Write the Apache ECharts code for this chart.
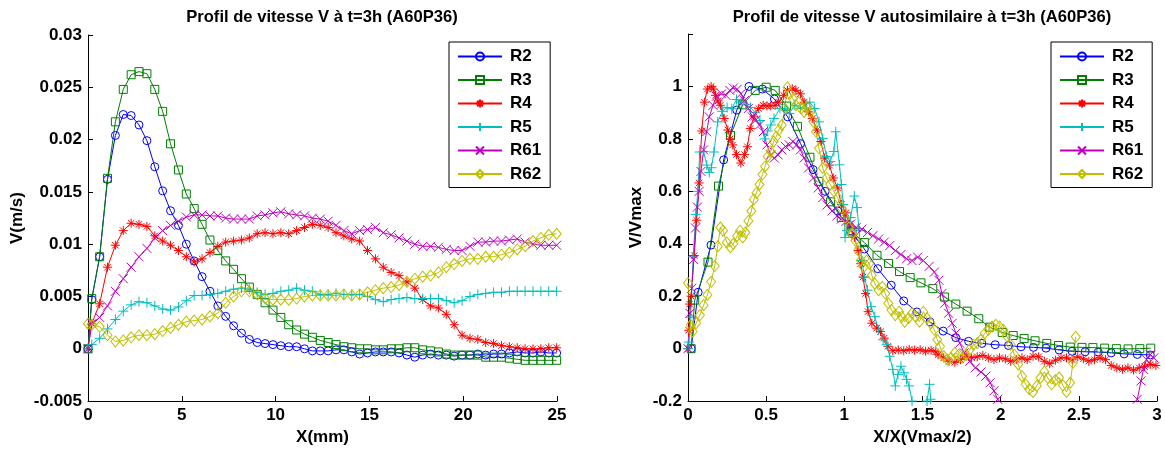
<!DOCTYPE html>
<html><head><meta charset="utf-8">
<script src="https://cdn.jsdelivr.net/npm/echarts@6/dist/echarts.min.js"></script>
<style>html,body{margin:0;padding:0;background:#fff}#c{width:1165px;height:451px}</style>
</head><body><div id="c"></div>
<script>
// ---------- data ----------
const names = ['R2', 'R3', 'R4', 'R5', 'R61', 'R62'];
const titleLeft = 'Profil de vitesse V à t=3h (A60P36)';
const titleRight = 'Profil de vitesse V autosimilaire à t=3h (A60P36)';

// left chart: X (mm)
const xLeft = [0, 0.20, 0.62, 1.04, 1.46, 1.88, 2.30, 2.72, 3.14, 3.56, 3.98, 4.40, 4.82, 5.24, 5.66, 6.08, 6.50, 6.92, 7.34, 7.76, 8.18, 8.60, 9.02, 9.44, 9.86, 10.28, 10.70, 11.12, 11.54, 11.96, 12.38, 12.80, 13.22, 13.64, 14.06, 14.48, 14.90, 15.32, 15.74, 16.16, 16.58, 17.00, 17.42, 17.84, 18.26, 18.68, 19.10, 19.52, 19.94, 20.36, 20.78, 21.20, 21.62, 22.04, 22.46, 22.88, 23.30, 23.72, 24.14, 24.56, 24.98];
const vR2 = [0, 0.0047, 0.0088, 0.0162, 0.0204, 0.0224, 0.0223, 0.0214, 0.0199, 0.0174, 0.0151, 0.0132, 0.0118, 0.0100, 0.0084, 0.0069, 0.0055, 0.0041, 0.0031, 0.0022, 0.0015, 0.0009, 0.0006, 0.0005, 0.0004, 0.0003, 0.0002, 0.0002, 0.0000, -0.0002, -0.0002, -0.0002, -0.0001, -0.0001, -0.0003, -0.0005, -0.0004, -0.0003, -0.0003, -0.0003, -0.0004, -0.0006, -0.0008, -0.0006, -0.0005, -0.0006, -0.0006, -0.0007, -0.0006, -0.0006, -0.0005, -0.0006, -0.0005, -0.0005, -0.0004, -0.0003, -0.0004, -0.0004, -0.0003, -0.0004, -0.0004];
const vR3 = [0, 0.0048, 0.0088, 0.0163, 0.0217, 0.0248, 0.0262, 0.0265, 0.0263, 0.0248, 0.0227, 0.0196, 0.0171, 0.0148, 0.0134, 0.0119, 0.0104, 0.0094, 0.0084, 0.0076, 0.0067, 0.0059, 0.0052, 0.0044, 0.0037, 0.0030, 0.0023, 0.0018, 0.0014, 0.0011, 0.0008, 0.0006, 0.0004, 0.0002, 0.0001, 0, 0, -0.0001, -0.0001, 0, 0, 0.0001, 0.0001, -0.0001, -0.0002, -0.0003, -0.0005, -0.0006, -0.0006, -0.0006, -0.0006, -0.0008, -0.0008, -0.0008, -0.0009, -0.0010, -0.0011, -0.0011, -0.0011, -0.0011, -0.0011];
const vR4 = [0, 0.0024, 0.0043, 0.0078, 0.0099, 0.0113, 0.0120, 0.0119, 0.0117, 0.0108, 0.0103, 0.0099, 0.0094, 0.0088, 0.0083, 0.0086, 0.0092, 0.0098, 0.0102, 0.0103, 0.0104, 0.0106, 0.0110, 0.0111, 0.0110, 0.0111, 0.0110, 0.0113, 0.0116, 0.0119, 0.0118, 0.0116, 0.0111, 0.0108, 0.0105, 0.0103, 0.0094, 0.0086, 0.0078, 0.0073, 0.0070, 0.0064, 0.0058, 0.0047, 0.0041, 0.0039, 0.0033, 0.0023, 0.0013, 0.0010, 0.0009, 0.0006, 0.0005, 0.0003, 0.0002, 0.0001, 0, 0, 0, 0.0001, 0.0001];
const vR5 = [0, 0.0004, 0.0010, 0.0019, 0.0028, 0.0036, 0.0042, 0.0045, 0.0044, 0.0041, 0.0038, 0.0037, 0.0040, 0.0046, 0.0051, 0.0051, 0.0052, 0.0053, 0.0055, 0.0057, 0.0058, 0.0057, 0.0054, 0.0052, 0.0053, 0.0055, 0.0056, 0.0058, 0.0056, 0.0055, 0.0052, 0.0052, 0.0053, 0.0052, 0.0052, 0.0052, 0.0050, 0.0047, 0.0045, 0.0047, 0.0048, 0.0049, 0.0048, 0.0048, 0.0048, 0.0048, 0.0046, 0.0044, 0.0046, 0.0050, 0.0052, 0.0053, 0.0054, 0.0054, 0.0055, 0.0055, 0.0055, 0.0055, 0.0055, 0.0055, 0.0055];
const vR61 = [0, 0.0024, 0.0030, 0.0041, 0.0055, 0.0067, 0.0078, 0.0088, 0.0096, 0.0106, 0.0113, 0.0118, 0.0122, 0.0126, 0.0128, 0.0128, 0.0127, 0.0127, 0.0125, 0.0124, 0.0124, 0.0124, 0.0127, 0.0128, 0.0130, 0.0131, 0.0129, 0.0128, 0.0127, 0.0125, 0.0124, 0.0122, 0.0118, 0.0113, 0.0110, 0.0113, 0.0114, 0.0116, 0.0111, 0.0109, 0.0106, 0.0103, 0.0100, 0.0098, 0.0098, 0.0097, 0.0095, 0.0094, 0.0094, 0.0098, 0.0102, 0.0102, 0.0103, 0.0103, 0.0104, 0.0105, 0.0102, 0.0100, 0.0099, 0.0099, 0.0099];
const vR62 = [0.0024, 0.0023, 0.0021, 0.0013, 0.0007, 0.0008, 0.0011, 0.0013, 0.0013, 0.0014, 0.0017, 0.0020, 0.0023, 0.0026, 0.0027, 0.0028, 0.0031, 0.0034, 0.0044, 0.0050, 0.0055, 0.0055, 0.0052, 0.0048, 0.0047, 0.0047, 0.0047, 0.0048, 0.0050, 0.0051, 0.0051, 0.0051, 0.0051, 0.0052, 0.0051, 0.0052, 0.0054, 0.0056, 0.0058, 0.0059, 0.0061, 0.0064, 0.0067, 0.0069, 0.0070, 0.0073, 0.0078, 0.0081, 0.0084, 0.0086, 0.0086, 0.0088, 0.0088, 0.0090, 0.0092, 0.0095, 0.0098, 0.0103, 0.0106, 0.0109, 0.0110];

// right chart: [X/X(Vmax/2), V/Vmax]
const nR2 = [[0.02,0],[0.065,0.215],[0.147,0.395],[0.228,0.72],[0.312,0.91],[0.39,1.0],[0.476,0.99],[0.553,0.952],[0.638,0.884],[0.72,0.782],[0.8,0.683],[0.878,0.6],[0.958,0.525],[1.04,0.45],[1.128,0.38],[1.214,0.305],[1.3,0.242],[1.38,0.182],[1.464,0.14],[1.548,0.102],[1.632,0.067],[1.713,0.042],[1.795,0.028],[1.88,0.02],[1.965,0.015],[2.05,0.012],[2.13,0.007],[2.21,0.005],[2.29,0.002],[2.374,-0.005],[2.457,-0.01],[2.54,-0.012],[2.624,-0.013],[2.707,-0.016],[2.79,-0.02],[2.874,-0.022],[2.957,-0.024]];
const nR3 = [[0.02,0],[0.043,0.185],[0.128,0.33],[0.195,0.62],[0.272,0.813],[0.35,0.93],[0.43,0.985],[0.5,0.997],[0.558,0.985],[0.63,0.925],[0.7,0.848],[0.78,0.73],[0.837,0.638],[0.912,0.56],[0.98,0.5],[1.05,0.445],[1.128,0.405],[1.209,0.356],[1.283,0.325],[1.353,0.294],[1.421,0.271],[1.49,0.251],[1.566,0.229],[1.64,0.197],[1.713,0.17],[1.785,0.143],[1.86,0.114],[1.93,0.082],[2.01,0.062],[2.08,0.05],[2.15,0.039],[2.22,0.03],[2.295,0.02],[2.37,0.012],[2.445,0.006],[2.52,0.005],[2.59,0.004],[2.665,0.002],[2.74,0],[2.815,-0.001],[2.89,0],[2.96,0.002]];
const nR4 = [[0,0],[0.005,0.07],[0.01,0.17],[0.02,0.2],[0.04,0.355],[0.055,0.49],[0.071,0.632],[0.088,0.83],[0.105,0.94],[0.124,0.99],[0.148,1.0],[0.162,0.99],[0.176,0.966],[0.192,0.945],[0.207,0.928],[0.231,0.878],[0.255,0.834],[0.27,0.8],[0.286,0.777],[0.31,0.74],[0.338,0.708],[0.362,0.74],[0.38,0.77],[0.398,0.84],[0.421,0.884],[0.452,0.916],[0.481,0.928],[0.505,0.926],[0.529,0.926],[0.557,0.928],[0.581,0.94],[0.612,0.966],[0.636,0.985],[0.667,0.991],[0.69,0.985],[0.719,0.972],[0.743,0.94],[0.771,0.903],[0.795,0.878],[0.826,0.834],[0.85,0.79],[0.874,0.727],[0.905,0.7],[0.929,0.651],[0.957,0.613],[0.981,0.55],[1.01,0.518],[1.033,0.475],[1.064,0.424],[1.088,0.374],[1.105,0.324],[1.119,0.273],[1.136,0.21],[1.152,0.141],[1.176,0.097],[1.207,0.078],[1.231,0.065],[1.255,0.04],[1.279,0.009],[1.31,-0.008],[1.345,-0.005],[1.38,-0.008],[1.415,-0.003],[1.45,-0.006],[1.485,-0.004],[1.52,-0.01],[1.555,-0.006],[1.585,-0.012],[1.6,-0.023],[1.636,-0.035],[1.67,-0.048],[1.707,-0.052],[1.743,-0.042],[1.779,-0.029],[1.814,-0.035],[1.85,-0.031],[1.886,-0.026],[1.921,-0.035],[1.957,-0.042],[1.993,-0.035],[2.03,-0.039],[2.064,-0.048],[2.1,-0.042],[2.136,-0.035],[2.17,-0.042],[2.207,-0.029],[2.243,-0.031],[2.279,-0.048],[2.314,-0.057],[2.35,-0.044],[2.386,-0.035],[2.421,-0.035],[2.457,-0.042],[2.493,-0.031],[2.529,-0.039],[2.564,-0.048],[2.6,-0.042],[2.636,-0.035],[2.671,-0.042],[2.707,-0.064],[2.743,-0.073],[2.779,-0.079],[2.814,-0.073],[2.85,-0.082],[2.886,-0.073],[2.921,-0.069],[2.957,-0.06],[2.993,-0.064]];
const nR5 = [[0,0],[0.006,0.025],[0.017,0.12],[0.033,0.35],[0.05,0.512],[0.063,0.6],[0.075,0.75],[0.1,0.752],[0.12,0.7],[0.136,0.672],[0.15,0.69],[0.166,0.75],[0.19,0.865],[0.22,0.905],[0.25,0.92],[0.28,0.915],[0.31,0.95],[0.34,0.94],[0.37,0.93],[0.4,0.92],[0.43,0.9],[0.46,0.87],[0.49,0.8],[0.51,0.83],[0.53,0.853],[0.55,0.878],[0.588,0.916],[0.62,0.915],[0.648,0.897],[0.683,0.928],[0.719,0.916],[0.755,0.934],[0.779,0.94],[0.81,0.916],[0.838,0.865],[0.862,0.802],[0.886,0.733],[0.91,0.714],[0.933,0.752],[0.945,0.827],[0.969,0.701],[0.981,0.626],[0.993,0.55],[1.005,0.424],[1.017,0.45],[1.04,0.5],[1.064,0.582],[1.081,0.538],[1.095,0.45],[1.112,0.336],[1.129,0.273],[1.148,0.223],[1.171,0.16],[1.195,0.122],[1.219,0.072],[1.248,0.034],[1.271,0.015],[1.29,-0.029],[1.31,-0.079],[1.326,-0.142],[1.343,-0.098],[1.362,-0.067],[1.381,-0.092],[1.398,-0.117],[1.414,-0.142],[1.433,-0.2],[1.46,-0.26],[1.5,-0.25],[1.529,-0.2],[1.545,-0.136],[1.552,-0.193],[1.564,-0.23],[1.6,-0.3]];
const nR61 = [[0,0],[0.012,0.135],[0.024,0.23],[0.036,0.34],[0.048,0.46],[0.06,0.54],[0.071,0.6],[0.083,0.676],[0.1,0.758],[0.119,0.827],[0.136,0.884],[0.16,0.928],[0.183,0.963],[0.214,0.972],[0.243,0.966],[0.267,0.985],[0.29,0.994],[0.314,0.989],[0.338,0.972],[0.362,0.947],[0.386,0.916],[0.41,0.884],[0.433,0.872],[0.457,0.853],[0.481,0.827],[0.505,0.777],[0.529,0.739],[0.552,0.727],[0.576,0.739],[0.6,0.758],[0.624,0.771],[0.648,0.777],[0.671,0.79],[0.695,0.777],[0.719,0.758],[0.743,0.727],[0.771,0.689],[0.802,0.651],[0.833,0.613],[0.862,0.576],[0.89,0.548],[0.921,0.525],[0.952,0.506],[0.981,0.494],[1.01,0.485],[1.04,0.475],[1.076,0.462],[1.112,0.456],[1.148,0.443],[1.183,0.431],[1.219,0.418],[1.255,0.406],[1.29,0.393],[1.326,0.374],[1.362,0.359],[1.398,0.343],[1.433,0.336],[1.469,0.349],[1.505,0.336],[1.543,0.314],[1.576,0.292],[1.605,0.261],[1.624,0.21],[1.643,0.173],[1.667,0.135],[1.69,0.097],[1.714,0.059],[1.738,0.021],[1.767,-0.016],[1.802,-0.048],[1.838,-0.073],[1.874,-0.089],[1.905,-0.105],[1.933,-0.13],[1.957,-0.161],[1.981,-0.193],[2.0,-0.23],[2.1,-0.27],[2.3,-0.3],[2.5,-0.31],[2.7,-0.29],[2.84,-0.24],[2.874,-0.193],[2.898,-0.123],[2.914,-0.079],[2.933,-0.042],[2.957,-0.023],[2.98,-0.035]];
const nR62 = [[0,0.25],[0.017,0.09],[0.03,0.065],[0.052,0.097],[0.076,0.128],[0.1,0.166],[0.124,0.205],[0.148,0.255],[0.171,0.315],[0.19,0.39],[0.207,0.462],[0.224,0.45],[0.248,0.405],[0.271,0.387],[0.29,0.4],[0.314,0.43],[0.333,0.45],[0.35,0.424],[0.367,0.443],[0.386,0.487],[0.405,0.525],[0.421,0.569],[0.438,0.594],[0.457,0.626],[0.476,0.664],[0.493,0.695],[0.51,0.733],[0.529,0.752],[0.548,0.79],[0.564,0.808],[0.581,0.834],[0.6,0.853],[0.619,0.916],[0.636,0.997],[0.652,0.972],[0.671,0.953],[0.69,0.928],[0.707,0.94],[0.724,0.916],[0.743,0.903],[0.762,0.922],[0.781,0.903],[0.802,0.865],[0.819,0.827],[0.838,0.764],[0.862,0.689],[0.886,0.651],[0.91,0.626],[0.933,0.6],[0.957,0.576],[0.981,0.538],[1.005,0.5],[1.029,0.462],[1.052,0.437],[1.071,0.412],[1.088,0.374],[1.105,0.336],[1.124,0.311],[1.143,0.336],[1.16,0.324],[1.176,0.28],[1.195,0.248],[1.219,0.223],[1.243,0.236],[1.262,0.21],[1.281,0.173],[1.302,0.147],[1.326,0.128],[1.35,0.141],[1.367,0.122],[1.386,0.103],[1.41,0.116],[1.433,0.135],[1.457,0.122],[1.481,0.103],[1.505,0.141],[1.529,0.116],[1.552,0.097],[1.576,0.072],[1.595,0.034],[1.612,0.009],[1.636,-0.029],[1.66,-0.042],[1.683,-0.035],[1.707,-0.016],[1.731,-0.023],[1.755,-0.035],[1.779,-0.023],[1.802,-0.004],[1.826,0.015],[1.85,0.021],[1.874,0.034],[1.898,0.059],[1.921,0.072],[1.945,0.084],[1.969,0.091],[1.993,0.084],[2.017,0.072],[2.04,0.047],[2.064,0.015],[2.088,-0.023],[2.112,-0.06],[2.136,-0.105],[2.16,-0.136],[2.183,-0.155],[2.207,-0.165],[2.231,-0.142],[2.255,-0.111],[2.279,-0.088],[2.302,-0.112],[2.326,-0.136],[2.35,-0.12],[2.374,-0.11],[2.398,-0.14],[2.421,-0.165],[2.445,-0.13],[2.462,-0.054],[2.48,0.045]];

// ---------- styling ----------
const leftVals = [vR2, vR3, vR4, vR5, vR61, vR62];
const rightVals = [nR2, nR3, nR4, nR5, nR61, nR62];
const colors = ['#0000ff', '#008000', '#ff0000', '#00bfbf', '#bf00bf', '#bfbf00'];
const STAR = 'path://M0,5L10,5M5,0L5,10M1.46,1.46L8.54,8.54M8.54,1.46L1.46,8.54';
const PLUS = 'path://M0,5L10,5M5,0L5,10';
const CROSS = 'path://M0,0L10,10M10,0L0,10';
const symbols = ['circle', 'rect', STAR, PLUS, CROSS, 'diamond'];
const symSizes = [8, 8, 9, 10, 9, [9, 11]];
const FONT = '"Liberation Sans", Arial, Helvetica, sans-serif';

function mkSeries(i, gi, data) {
  return {
    type: 'line', name: names[i], xAxisIndex: gi, yAxisIndex: gi, data: data,
    symbol: symbols[i], symbolSize: symSizes[i], showAllSymbol: true,
    lineStyle: { color: colors[i], width: 1 },
    itemStyle: { color: 'rgba(0,0,0,0)', borderColor: colors[i], borderWidth: 1 },
    emphasis: { disabled: true }, animation: false, clip: true, z: 2
  };
}
const series = [];
names.forEach((n, i) => series.push(mkSeries(i, 0, xLeft.map((x, k) => [x, leftVals[i][k]]))));
names.forEach((n, i) => series.push(mkSeries(i, 1, rightVals[i])));

const axisCommon = {
  type: 'value',
  splitLine: { show: false },
  axisLine: { show: true, onZero: false, lineStyle: { color: '#000', width: 1 } },
  axisTick: { show: true, inside: true, length: 5, lineStyle: { color: '#000' } },
  nameLocation: 'middle',
  nameTextStyle: { fontSize: 17, fontWeight: 'bold', color: '#000', fontFamily: FONT }
};
const labelCommon = { fontSize: 17, fontWeight: 'bold', color: '#000', fontFamily: FONT, margin: 6 };

function legendAt(left) {
  return {
    left: left, top: 42, orient: 'vertical', data: names, selectedMode: false,
    itemWidth: 44, itemHeight: 10, itemGap: 6.5, padding: [6, 9, 5, 8],
    borderColor: '#000', borderWidth: 1, backgroundColor: '#fff', borderRadius: 0,
    textStyle: { fontSize: 17, fontWeight: 'bold', color: '#000', fontFamily: FONT, padding: [0, 0, 0, 3] }
  };
}

const option = {
  backgroundColor: '#fff',
  animation: false,
  title: [
    { text: titleLeft, left: 322, top: 9, padding: 0, textAlign: 'center',
      textStyle: { fontSize: 16.6, fontWeight: 'bold', color: '#000', fontFamily: FONT } },
    { text: titleRight, left: 922, top: 9, padding: 0, textAlign: 'center',
      textStyle: { fontSize: 16.6, fontWeight: 'bold', color: '#000', fontFamily: FONT } }
  ],
  legend: [legendAt(449), legendAt(1051)],
  grid: [
    { left: 88, top: 35, width: 469, height: 370 },
    { left: 688, top: 34, width: 469, height: 371 }
  ],
  xAxis: [
    Object.assign({}, axisCommon, { gridIndex: 0, min: 0, max: 25, interval: 5, name: 'X(mm)', nameGap: 26,
      axisLabel: Object.assign({}, labelCommon) }),
    Object.assign({}, axisCommon, { gridIndex: 1, min: 0, max: 3, interval: 0.5, name: 'X/X(Vmax/2)', nameGap: 26,
      axisLabel: Object.assign({}, labelCommon) })
  ],
  yAxis: [
    Object.assign({}, axisCommon, { gridIndex: 0, min: -0.005, max: 0.03, interval: 0.005, name: 'V(m/s)', nameGap: 62,
      axisLabel: Object.assign({}, labelCommon, { formatter: v => String(parseFloat(v.toFixed(4))) }) }),
    Object.assign({}, axisCommon, { gridIndex: 1, min: -0.2, max: 1.2, interval: 0.2, name: 'V/Vmax', nameGap: 43,
      axisLabel: Object.assign({}, labelCommon, { formatter: v => v > 1.1 ? '' : String(parseFloat(v.toFixed(2))) }) })
  ],
  series: series
};
const chart = echarts.init(document.getElementById('c'), null, { renderer: 'canvas' });
chart.setOption(option);
</script>
</body></html>
